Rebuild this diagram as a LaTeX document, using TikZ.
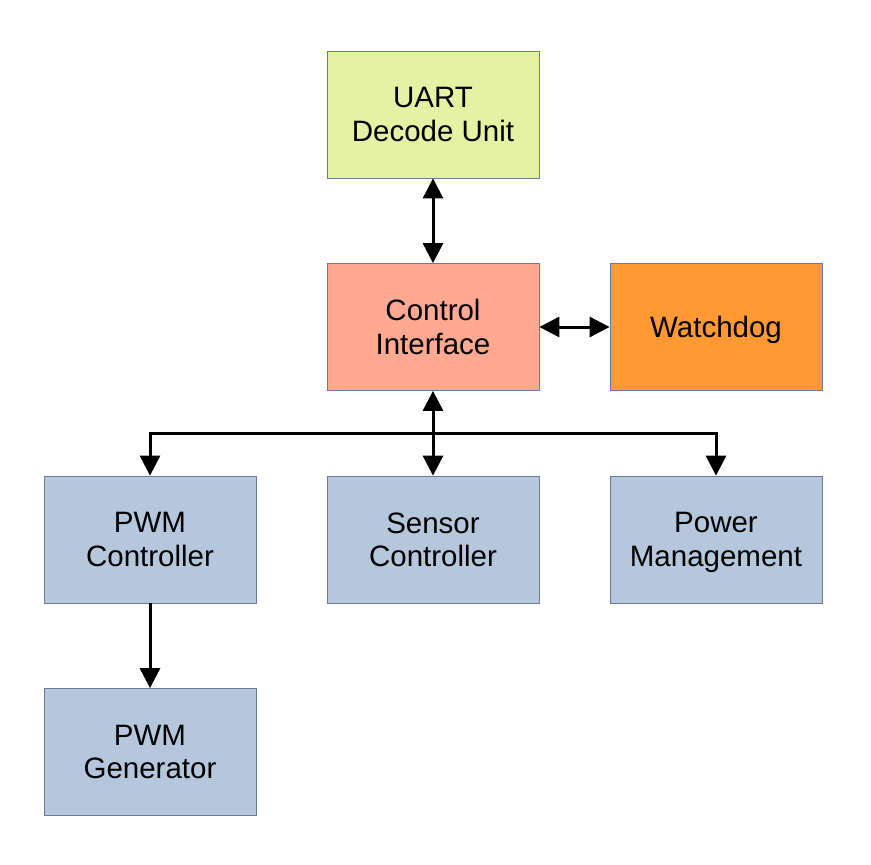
\documentclass[tikz,border=0pt]{standalone}
\usepackage{fontspec}
\setmainfont{Liberation Sans}
\usetikzlibrary{positioning,calc,arrows.meta}

\definecolor{uartfill}{RGB}{230,242,163}
\definecolor{ctrlfill}{RGB}{255,168,146}
\definecolor{wdogfill}{RGB}{255,153,51}
\definecolor{unitfill}{RGB}{180,199,220}
\definecolor{unitline}{RGB}{104,124,156}

\begin{document}
\begin{tikzpicture}[%
x=1pt, y=-1pt,
>={Triangle[length=20pt,width=20pt]},
on grid,
block/.style={draw=unitline, line width=0.8pt, minimum width=212pt,
  minimum height=127pt, align=center, text depth=0pt,
  font=\fontsize{29.5}{33.5}\selectfont},
link/.style={line width=3pt}
]

\useasboundingbox (0,0) rectangle (871,865);

\node[block, fill=uartfill] (ud) at (433,114.5) {UART\\Decode Unit};
\node[block, fill=ctrlfill] (ci) [below=212.5pt of ud] {Control\\Interface};
\node[block, fill=wdogfill] (wd) [right=283pt of ci] {Watchdog};
\node[block, fill=unitfill] (sc) [below=212.5pt of ci] {Sensor\\Controller};
\node[block, fill=unitfill] (pc) [left=283pt of sc] {PWM\\Controller};
\node[block, fill=unitfill] (pm) [right=283pt of sc] {Power\\Management};
\node[block, fill=unitfill] (pg) [below=212.5pt of pc] {PWM\\Generator};

\coordinate (bus) at ($(ci.south)!0.5!(sc.north)$);

\draw[link, <->] (ud) -- (ci);
\draw[link, <->] (ci) -- (wd);
\draw[link, <->] (ci) -- (sc);
\draw[link, ->] (bus) -| (pc);
\draw[link, ->] (bus) -| (pm);
\draw[link, ->] (pc) -- (pg);

\end{tikzpicture}
\end{document}
